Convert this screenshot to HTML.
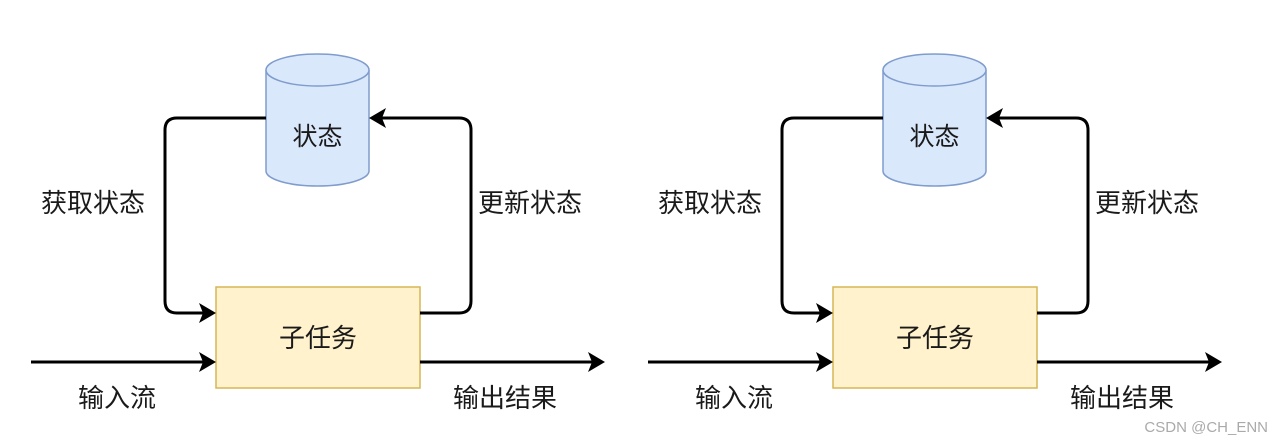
<!DOCTYPE html>
<html><head><meta charset="utf-8"><style>
html,body{margin:0;padding:0;background:#fff;width:1280px;height:444px;overflow:hidden}
text{font-family:"Liberation Sans","Noto Sans CJK SC",sans-serif;fill:#1a1a1a}
</style></head><body>
<svg width="1280" height="444" viewBox="0 0 1280 444" xmlns="http://www.w3.org/2000/svg">
<defs>
<g id="d">
  <path d="M266,70 L266,171 A51.5,15 0 0 0 369,171 L369,70" fill="#dae8fc" stroke="#7f9ccc" stroke-width="1.5"/>
  <ellipse cx="317.5" cy="70" rx="51.5" ry="16" fill="#dae8fc" stroke="#7f9ccc" stroke-width="1.5"/>
  <text x="317.5" y="145" font-size="25" text-anchor="middle">状态</text>
  <rect x="216" y="287" width="204" height="101" fill="#fff2cc" stroke="#d6b656" stroke-width="1.5"/>
  <text x="318" y="347" font-size="26" text-anchor="middle">子任务</text>
  <path d="M266,118 L177,118 Q165,118 165,130 L165,301 Q165,313 177,313 L206,313" fill="none" stroke="#000" stroke-width="3"/>
  <path d="M216,313 L199,303 L203,313 L199,323 Z" fill="#000"/>
  <path d="M420,313 L459,313 Q471,313 471,301 L471,130 Q471,118 459,118 L379,118" fill="none" stroke="#000" stroke-width="3"/>
  <path d="M369,118 L386,108 L382,118 L386,128 Z" fill="#000"/>
  <path d="M31,362 L206,362" stroke="#000" stroke-width="3"/>
  <path d="M216,362 L199,352 L203,362 L199,372 Z" fill="#000"/>
  <path d="M420,362 L595,362" stroke="#000" stroke-width="3"/>
  <path d="M605,362 L588,352 L592,362 L588,372 Z" fill="#000"/>
  <text x="93" y="212" font-size="26" text-anchor="middle">获取状态</text>
  <text x="530" y="212" font-size="26" text-anchor="middle">更新状态</text>
  <text x="117" y="407" font-size="26" text-anchor="middle">输入流</text>
  <text x="505" y="407" font-size="26" text-anchor="middle">输出结果</text>
</g>
</defs>
<use href="#d"/>
<use href="#d" transform="translate(617,0)"/>
<text x="1268" y="432" font-size="15" text-anchor="end" style="fill:#aaa">CSDN @CH_ENN</text>
</svg>
</body></html>
